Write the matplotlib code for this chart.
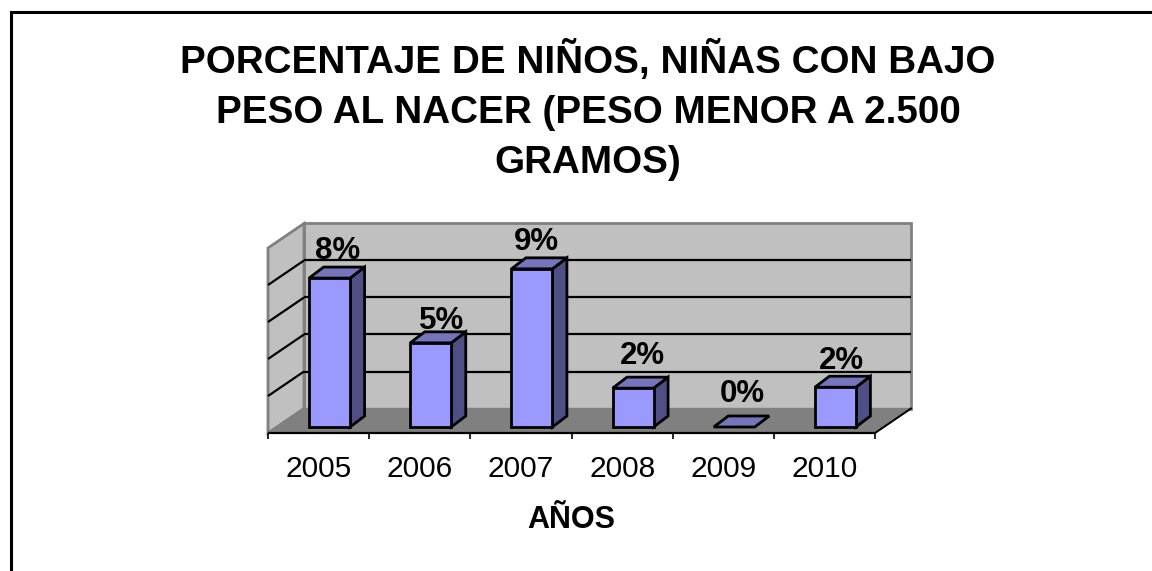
import matplotlib
matplotlib.use("Agg")
import matplotlib.pyplot as plt
from matplotlib.patches import Polygon

plt.rcParams['font.family'] = ['Liberation Sans', 'DejaVu Sans']

years = ['2005', '2006', '2007', '2008', '2009', '2010']
values = [8.05, 4.55, 8.55, 2.1, 0.0, 2.15]
labels = ['8%', '5%', '9%', '2%', '0%', '2%']
y_ticks = [0, 2, 4, 6, 8, 10]
title = 'PORCENTAJE DE NIÑOS, NIÑAS CON BAJO\nPESO AL NACER (PESO MENOR A 2.500\nGRAMOS)'
x_title = 'AÑOS'
# small label nudges, in pixels (positive = right / down)
label_nudge_x = [1, 4, -3, 2, 1, -1]
label_nudge_y = [2, 8, 3, -3, -4, 3]

W, H = 1152, 571
fig = plt.figure(figsize=(W / 100, H / 100), dpi=100, facecolor='white')

# frame: only top and left edges are visible in the crop
bg = fig.add_axes([0, 0, 1, 1])
bg.set_xlim(0, W); bg.set_ylim(H, 0); bg.axis('off')
bg.plot([10.5, 10.5, W], [H, 12, 12], color='black', lw=2.2, solid_capstyle='butt', solid_joinstyle='miter')

# plot axes: front plane of the chart
L, R, B, T = 268, 875, 433, 248
ax = fig.add_axes([L / W, 1 - B / H, (R - L) / W, (B - T) / H])
ax.set_xlim(-0.5, 5.5); ax.set_ylim(0, 10)
ax.patch.set_alpha(0)
for s in ax.spines.values():
    s.set_visible(False)

ux = (R - L) / 6          # px per category
uy = (B - T) / 10         # px per unit
dx, dy = 36 / ux, 24.5 / uy      # depth of the box
bx, by = 11 / ux, 6 / uy         # bar front offset
bdx, bdy = 14.5 / ux, 11 / uy    # bar depth
bw = 41 / ux

xl, xr = -0.5, 5.5
ymax = y_ticks[-1]
kw = dict(clip_on=False, joinstyle='miter')
# back wall, side wall, floor
ax.add_patch(Polygon([(xl + dx, dy), (xr + dx, dy), (xr + dx, ymax + dy), (xl + dx, ymax + dy)],
                     fc='#C0C0C0', ec='#808080', lw=2, zorder=1, **kw))
ax.add_patch(Polygon([(xl, 0), (xl + dx, dy), (xl + dx, ymax + dy), (xl, ymax)],
                     fc='#C0C0C0', ec='#808080', lw=2, zorder=1, **kw))
ax.add_patch(Polygon([(xl, 0), (xr, 0), (xr + dx, dy), (xl + dx, dy)],
                     fc='#808080', ec='#808080', lw=1, zorder=1.5, **kw))
# gridlines
for t in y_ticks[1:-1]:
    ax.plot([xl + dx, xr + dx], [t + dy, t + dy], color='black', lw=1.6, zorder=2, clip_on=False,
            solid_capstyle='butt')
    ax.plot([xl, xl + dx], [t, t + dy], color='black', lw=1.6, zorder=2, clip_on=False,
            solid_capstyle='butt')
# floor's right edge
ax.plot([xr, xr + dx], [0, dy], color='black', lw=1.4, zorder=2.5, clip_on=False)

# bars
for i, (v, lab) in enumerate(zip(values, labels)):
    x0 = i - bw / 2 + bx
    x1 = i + bw / 2 + bx
    y0 = by
    y1 = by + v
    z = 3 + i * 0.01
    edge = dict(ec='black', lw=2, zorder=z, **kw)
    if v > 0:
        ax.add_patch(Polygon([(x1, y0), (x1 + bdx, y0 + bdy), (x1 + bdx, y1 + bdy), (x1, y1)],
                             fc='#4F4F85', **edge))
    ax.add_patch(Polygon([(x0, y1), (x1, y1), (x1 + bdx, y1 + bdy), (x0 + bdx, y1 + bdy)],
                         fc='#7575BD', **edge))
    if v > 0:
        ax.add_patch(Polygon([(x0, y0), (x1, y0), (x1, y1), (x0, y1)],
                             fc='#9999FF', **edge))
    ax.text((x0 + x1 + bdx) / 2 + label_nudge_x[i] / ux,
            y1 + bdy + (3.5 - label_nudge_y[i]) / uy, lab, ha='center', va='bottom',
            fontsize=22.5, fontweight='bold', color='black', zorder=5, clip_on=False)

# x axis line, ticks, tick labels
ax.plot([xl, xr], [0, 0], color='black', lw=1.6, zorder=2.6, clip_on=False, solid_capstyle='butt')
ax.set_yticks([])
ax.set_xticks([i - 0.5 for i in range(7)], minor=False)
ax.set_xticklabels([])
ax.tick_params(axis='x', length=4, width=1.2, color='black', direction='out')
ax.set_xticks(range(6), labels=years, minor=True)
ax.tick_params(axis='x', which='minor', length=0, labelsize=21.5, pad=16)

fig.text(588 / W, 1 - 110.5 / H, title, ha='center', va='center', fontsize=27.8, fontweight='bold',
         linespacing=1.49, color='black')
fig.text(571 / W, 1 - 520 / H, x_title, ha='center', va='center', fontsize=22, fontweight='bold',
         color='black')

fig.savefig('out.png', dpi=100, facecolor='white')
